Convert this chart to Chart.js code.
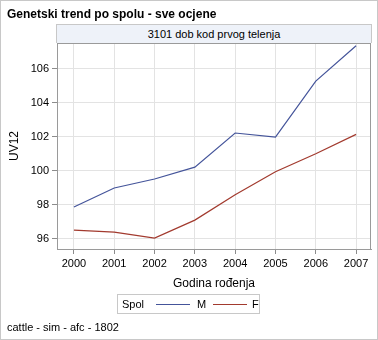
<!DOCTYPE html>
<html>
<head>
<meta charset="utf-8">
<script src="https://cdn.jsdelivr.net/npm/chart.js@4/dist/chart.umd.min.js"></script>
<style>
  html, body { margin: 0; padding: 0; background: #fff; }
  body { font-family: "Liberation Sans", Arial, sans-serif; color: #000; }
  #wrap { position: relative; width: 378px; height: 340px; box-sizing: border-box; border: 1px solid #c8c8c8; overflow: hidden; }
  #cv { position: absolute; left: -1px; top: -1px; }
  .txt { position: absolute; white-space: nowrap; }
  #title { left: 6px; top: 6px; font-size: 12px; font-weight: bold; }
  #panel { position: absolute; left: 55px; top: 23px; width: 316px; height: 19px; box-sizing: border-box;
           background: #eef2f9; border: 1px solid #c8c8c8; border-bottom: none; font-size: 11px; text-align: center; line-height: 18px; }
  #legend { position: absolute; left: 116px; top: 293px; width: 143px; height: 20px; box-sizing: border-box;
            border: 1px solid #c8c8c8; font-size: 11px; }
  #legend span { position: absolute; top: 3px; }
  #legend i { position: absolute; top: 9px; height: 1px; display: block; }
  #footer { left: 6px; top: 320px; font-size: 11px; }
</style>
</head>
<body>
<div id="wrap">
  <canvas id="cv" width="378" height="340"></canvas>
  <div id="title" class="txt">Genetski trend po spolu - sve ocjene</div>
  <div id="panel">3101 dob kod prvog telenja</div>
  <div id="legend">
    <span style="left:4px">Spol</span>
    <i style="left:38px;width:34px;background:#44549a"></i>
    <span style="left:79px">M</span>
    <i style="left:95px;width:34px;background:#a23a2e"></i>
    <span style="left:134px">F</span>
  </div>
  <div id="footer" class="txt">cattle - sim - afc - 1802</div>
</div>
<script>
const years = [2000, 2001, 2002, 2003, 2004, 2005, 2006, 2007];
const maleValues = [97.87, 98.99, 99.52, 100.22, 102.23, 101.99, 105.29, 107.37];
const femaleValues = [96.51, 96.39, 96.04, 97.1, 98.59, 99.95, 101.01, 102.15];
const yTicks = [96, 98, 100, 102, 104, 106];

const toPoints = vals => years.map((y, i) => ({ x: y, y: vals[i] }));

// frame round the plot area (top and right sides are not drawn by the axes)
const wallBorder = {
    id: 'wallBorder',
    afterDraw(chart) {
        const { ctx, chartArea: a } = chart;
        ctx.save();
        ctx.strokeStyle = '#9a9a9a';
        ctx.lineWidth = 1;
        ctx.strokeRect(Math.round(a.left) + 0.5, Math.round(a.top) + 0.5,
            Math.round(a.right - a.left) - 1, Math.round(a.bottom - a.top));
        ctx.restore();
    },
};

const ctx = document.getElementById('cv');
new Chart(ctx, {
    type: 'line',
    data: {
        datasets: [
            {
                label: 'M',
                data: toPoints(maleValues),
                borderColor: '#44549a',
                borderWidth: 1.2,
                pointRadius: 0,
                tension: 0,
            },
            {
                label: 'F',
                data: toPoints(femaleValues),
                borderColor: '#a23a2e',
                borderWidth: 1.2,
                pointRadius: 0,
                tension: 0,
            },
        ],
    },
    options: {
        responsive: false,
        animation: false,
        events: [],
        layout: { padding: { left: 1, top: 43, right: 7, bottom: 46 } },
        plugins: { legend: { display: false }, tooltip: { enabled: false } },
        scales: {
            x: {
                type: 'linear',
                min: 1999.58,
                max: 2007.37,
                afterBuildTicks: s => { s.ticks = years.map(v => ({ value: v })); },
                afterFit: s => { s.height = 45; },
                ticks: {
                    color: '#000',
                    padding: 3,
                    font: { family: 'Liberation Sans', size: 11 },
                    callback: v => String(v),
                },
                grid: { color: '#e3e3e3', tickColor: '#8c8c8c', tickLength: 5 },
                border: { color: '#9a9a9a' },
                title: {
                    display: true,
                    text: 'Godina rođenja',
                    color: '#000',
                    font: { family: 'Liberation Sans', size: 12 },
                    padding: { top: 0, bottom: 3 },
                },
            },
            y: {
                min: 95.4,
                max: 107.53,
                afterBuildTicks: s => { s.ticks = yTicks.map(v => ({ value: v })); },
                afterFit: s => { s.width = 56; },
                ticks: {
                    color: '#000',
                    padding: 3,
                    font: { family: 'Liberation Sans', size: 11 },
                },
                grid: { color: '#e3e3e3', tickColor: '#8c8c8c', tickLength: 5 },
                border: { color: '#9a9a9a' },
                title: {
                    display: true,
                    text: 'UV12',
                    color: '#000',
                    font: { family: 'Liberation Sans', size: 12 },
                    padding: { top: 6, bottom: 0 },
                },
            },
        },
    },
    plugins: [wallBorder],
});
</script>
</body>
</html>
